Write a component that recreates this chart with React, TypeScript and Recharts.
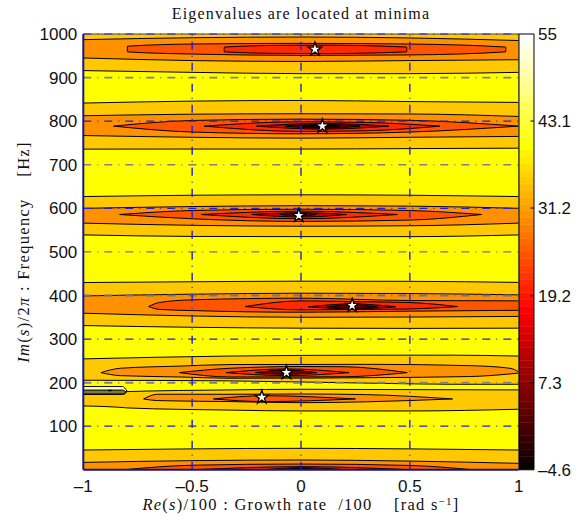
import { Area, CartesianGrid, ComposedChart, ReferenceLine, Scatter, Symbols, XAxis, YAxis } from "recharts";

type Row = [number, number, number]; // x, lower freq, upper freq

const xTicks = [-1, -0.5, 0, 0.5, 1];
const yTicks = [100, 200, 300, 400, 500, 600, 700, 800, 900, 1000];
const barTicks = [-4.6, 7.3, 19.2, 31.2, 43.1, 55];

// one colour per contour level, low index = high value
const AMBER = "#FFC800";
const ORANGE = "#FF9000";
const FLAME = "#FF5500";
const RED = "#FF2A00";
const CRIMSON = "#D00000";
const MAROON = "#700000";
const NEAR_BLACK = "#180000";

// band near 965 Hz
const b1Amber: Row[] = [[-1, 916, 1010], [-0.5, 912, 1010], [0, 909, 1010], [0.5, 909, 1010], [1, 912, 1010]];
const b1Orange: Row[] = [[-1, 945, 987], [-0.5, 939, 991.5], [0, 937, 993], [0.5, 939, 991], [1, 941, 985]];
const b1Flame: Row[] = [[-0.798, 965, 965], [-0.797, 959, 972], [-0.5, 954, 977], [0, 951, 978.5], [0.5, 952, 977], [0.94, 959, 970], [0.941, 965, 965]];
const b1Red: Row[] = [[-0.353, 965, 965], [-0.352, 959, 970], [-0.1, 955.5, 974], [0.1, 955, 974.5], [0.485, 959, 970], [0.486, 965, 965]];

// band near 790 Hz
const b2Amber: Row[] = [[-1, 735.8, 841.5], [-0.5, 736, 846], [0, 736, 847.5], [0.5, 737, 845], [1, 738, 843]];
const b2Orange: Row[] = [[-1, 767, 812.4], [-0.5, 763, 816], [0, 761, 817], [0.5, 763, 816.5], [1, 765, 810.8]];
const b2Flame: Row[] = [[-0.861, 788.6, 788.6], [-0.5, 775, 801.6], [0, 771, 804.7], [0.5, 775, 802], [1, 788.6, 788.6]];
const b2Red: Row[] = [[-0.445, 788.6, 788.6], [0, 776.4, 798.6], [0.3, 778, 797], [0.638, 788.6, 788.6]];
const b2Crimson: Row[] = [[-0.206, 788.6, 788.6], [0.1, 781.7, 794.8], [0.404, 788.6, 788.6]];
const b2Maroon: Row[] = [[-0.073, 788.6, 788.6], [0.1, 784, 792.5], [0.27, 788.6, 788.6]];
const b2Black: Row[] = [[0, 788.6, 788.6], [0.09, 786, 791], [0.18, 788.6, 788.6]];

// band near 585 Hz
const b3Amber: Row[] = [[-1, 539, 627], [-0.5, 535.5, 630], [0, 535, 631], [0.5, 535, 630], [1, 539, 627]];
const b3Orange: Row[] = [[-1, 566, 600], [-0.5, 561, 604], [0, 559, 606], [0.5, 560, 605], [1, 566, 600]];
const b3Flame: Row[] = [[-0.833, 585.8, 585.8], [-0.5, 576, 595], [0, 570, 598], [0.5, 573, 595], [0.829, 585.8, 585.8]];
const b3Red: Row[] = [[-0.459, 585.8, 585.8], [0, 576, 593.5], [0.443, 585.8, 585.8]];
const b3Crimson: Row[] = [[-0.226, 585.8, 585.8], [0, 580, 590], [0.209, 585.8, 585.8]];
const b3Maroon: Row[] = [[-0.096, 585.8, 585.8], [0, 582.5, 588], [0.07, 585.8, 585.8]];

// band near 375 Hz
const b4Amber: Row[] = [[-1, 331, 429.7], [-0.5, 327, 431.5], [0, 325, 432.8], [0.5, 324.5, 432.5], [1, 325, 430]];
const b4Orange: Row[] = [[-1, 359.3, 399], [-0.5, 353, 403], [0, 350, 405.2], [0.5, 350.5, 404.5], [1, 352, 401.4]];
const b4Flame: Row[] = [[-0.7, 374.6, 374.6], [-0.65, 368, 384], [-0.5, 365.4, 390], [0, 361.6, 393.8], [0.5, 364, 388.4], [1, 366, 387.6]];
const b4Red: Row[] = [[-0.257, 374.6, 374.6], [0, 367, 387.6], [0.3, 368, 385.5], [0.5, 369, 383.8], [0.719, 374.6, 374.6]];
const b4Crimson: Row[] = [[0.034, 374, 374], [0.235, 369.3, 380.7], [0.436, 374, 374]];
const b4Maroon: Row[] = [[0.12, 374, 374], [0.235, 372, 378], [0.35, 374, 374]];

// band near 223 Hz
const b5Amber: Row[] = [[-1, 205.5, 254.5], [-0.33, 204, 261], [0.34, 198.6, 263], [0.7, 196.3, 263], [1, 196.3, 261]];
const b5Orange: Row[] = [[-0.919, 223, 223], [-0.83, 216, 233], [-0.556, 213, 238], [-0.326, 210, 241.5], [0.34, 211.5, 242], [0.775, 214, 239], [0.96, 220, 233], [1, 222, 225]];
const b5Flame: Row[] = [[-0.558, 223, 223], [-0.326, 213, 233], [0, 213, 237], [0.2, 213.5, 236.5], [0.488, 223, 223]];
const b5Red: Row[] = [[-0.344, 223, 223], [-0.07, 216, 231.5], [0.22, 223, 223]];
const b5Maroon: Row[] = [[-0.21, 223, 223], [-0.07, 219, 229], [0.072, 223, 223]];

// band near 163 Hz, with the narrow pole feature on its left
const b6Amber: Row[] = [[-1, 146.5, 173], [-0.81, 142.5, 174], [-0.8, 142, 179.4], [-0.326, 137, 183.3], [0, 135, 184.8], [0.5, 135, 184], [1, 139, 183.3]];
const b6Orange: Row[] = [[-0.723, 162.6, 162.6], [-0.66, 158.8, 173.3], [-0.326, 156.5, 173.3], [0, 154, 174], [0.3, 156, 172.5], [0.696, 162.6, 162.6]];
const b6Flame: Row[] = [[-0.402, 162.6, 162.6], [-0.17, 156.5, 170], [0.25, 162.6, 162.6]];
const poleOuter: Row[] = [[-1, 173, 191], [-0.82, 173, 191], [-0.8, 181, 181]];
const poleShade: Row[] = [[-1, 174, 183], [-0.82, 174, 183], [-0.805, 179, 179]];
const poleCore: Row[] = [[-0.885, 181.4, 182.4], [-0.87, 181.4, 182.4]];

// band at the bottom edge
const b7Amber: Row[] = [[-1, -20, 45.4], [-0.5, -20, 48], [0, -20, 49.3], [0.5, -20, 48], [1, -20, 45.4]];
const b7Orange: Row[] = [[-1, -20, 17], [-0.5, -20, 21], [0, -20, 22.5], [0.5, -20, 20], [1, -20, 14.8]];
const b7Flame: Row[] = [[-0.816, 0, 0], [-0.5, -10, 10.5], [0, -13, 13.3], [0.5, -10, 10], [0.79, 0, 0]];
const b7Red: Row[] = [[-0.495, 0, 0], [0, -7, 7.2], [0.514, 0, 0]];
const b7Crimson: Row[] = [[-0.174, 0, 0], [0, -5, 4.9], [0.21, 0, 0]];
const b7Black: Row[] = [[-0.09, 0, 0], [0, -3, 3.3], [0.09, 0, 0]];

const contours: [Row[], string][] = [
  [b1Amber, AMBER], [b1Orange, ORANGE], [b1Flame, FLAME], [b1Red, RED],
  [b2Amber, AMBER], [b2Orange, ORANGE], [b2Flame, FLAME], [b2Red, RED], [b2Crimson, CRIMSON], [b2Maroon, MAROON], [b2Black, NEAR_BLACK],
  [b3Amber, AMBER], [b3Orange, ORANGE], [b3Flame, FLAME], [b3Red, RED], [b3Crimson, CRIMSON], [b3Maroon, MAROON],
  [b4Amber, AMBER], [b4Orange, ORANGE], [b4Flame, FLAME], [b4Red, RED], [b4Crimson, CRIMSON], [b4Maroon, MAROON],
  [b5Amber, AMBER], [b5Orange, ORANGE], [b5Flame, FLAME], [b5Red, RED], [b5Maroon, MAROON],
  [b6Amber, AMBER], [b6Orange, ORANGE], [b6Flame, FLAME],
  [poleOuter, "#FFFFC8"], [poleShade, "#7C7C38"], [poleCore, "#000000"],
  [b7Amber, AMBER], [b7Orange, ORANGE], [b7Flame, FLAME], [b7Red, RED], [b7Crimson, CRIMSON], [b7Black, NEAR_BLACK],
];

// eigenvalue positions
const eigenRe = [0.064, 0.098, -0.01, 0.235, -0.067, -0.18];
const eigenIm = [965, 788.6, 583.5, 377, 223, 166.4];

// grid
const blueGridY = [100, 300, 600, 800];
const greyGridY: [number, string, number][] = [
  [200, "#7F7F90", 2],
  [400, "#6E6E9C", 2],
  [500, "#70709C", 1.3],
  [700, "#808088", 1.6],
  [900, "#808088", 1.6],
];
const gridX = [-0.5, 0, 0.5];

// hot colormap, top of the list is the bottom of the colour bar
const hotMap = [
  "#0B0000", "#150000", "#200000", "#2A0000", "#350000", "#400000", "#4A0000", "#550000",
  "#600000", "#6A0000", "#750000", "#800000", "#8A0000", "#950000", "#9F0000", "#AA0000",
  "#B50000", "#BF0000", "#CA0000", "#D50000", "#DF0000", "#EA0000", "#F40000", "#FF0000",
  "#FF0B00", "#FF1500", "#FF2000", "#FF2A00", "#FF3500", "#FF4000", "#FF4A00", "#FF5500",
  "#FF6000", "#FF6A00", "#FF7500", "#FF8000", "#FF8A00", "#FF9500", "#FF9F00", "#FFAA00",
  "#FFB500", "#FFBF00", "#FFCA00", "#FFD500", "#FFDF00", "#FFEA00", "#FFF400", "#FFFF00",
  "#FFFF10", "#FFFF20", "#FFFF30", "#FFFF40", "#FFFF50", "#FFFF60", "#FFFF70", "#FFFF80",
  "#FFFF8F", "#FFFF9F", "#FFFFAF", "#FFFFBF", "#FFFFCF", "#FFFFDF", "#FFFFEF", "#FFFFFF",
];
const barMin = -4.6;
const barMax = 55;

const SANS = "'Liberation Sans', Arial, sans-serif";
const SERIF = "'Liberation Serif', serif";
const DASH = "8 6 1 6";

const toPoints = (rows: Row[]) => rows.map(([x, lo, hi]) => ({ x, band: [lo, hi] }));
const eigenPoints = eigenRe.map((re, i) => ({ x: re, y: eigenIm[i] }));
const barStep = (barMax - barMin) / hotMap.length;

const fmt = (v: number) => String(v).replace("-", "\u2013");

function Star(props: any) {
  return <Symbols cx={props.cx} cy={props.cy} type="star" size={58} fill="#ffffff" stroke="#000000" strokeWidth={1.3} />;
}

export default function App() {
  const tick = { fontFamily: SANS, fontSize: 17, fill: "#111" };

  return (
    <div style={{ position: "absolute", left: 0, top: 0, width: 584, height: 522, background: "#fff" }}>
      <div style={{ position: "absolute", left: 0, top: 0 }}>
        <ComposedChart width={584} height={522} margin={{ top: 34, right: 65.3, bottom: 0, left: 0 }}>
          <CartesianGrid fill="#FFFF00" fillOpacity={1} stroke="none" />
          <XAxis
            dataKey="x"
            type="number"
            domain={[-1, 1]}
            ticks={xTicks}
            allowDataOverflow
            height={52.2}
            interval={0}
            tick={tick}
            tickFormatter={fmt}
            tickLine={false}
            tickSize={0}
            tickMargin={10}
            axisLine={{ stroke: "#14148C", strokeWidth: 2 }}
            label={() => (
              <text x={301} y={510} textAnchor="middle" fontFamily={SERIF} fontSize={16.5} letterSpacing={1.25} fill="#111" xmlSpace="preserve">
                <tspan fontStyle="italic">Re</tspan>(<tspan fontStyle="italic">s</tspan>)/100 : Growth rate  /100    [rad s
                <tspan fontSize={11} dy={-5}>{"\u22121"}</tspan>
                <tspan dy={5}>]</tspan>
              </text>
            )}
          />
          <YAxis
            type="number"
            domain={[0, 1000]}
            ticks={yTicks}
            allowDataOverflow
            width={83.3}
            interval={0}
            tick={tick}
            tickLine={false}
            tickSize={0}
            tickMargin={6}
            axisLine={{ stroke: "#14148C", strokeWidth: 2 }}
            label={() => (
              <text x={29} y={252} transform="rotate(-90 29 252)" textAnchor="middle" fontFamily={SERIF} fontSize={16.5} letterSpacing={1.3} fill="#111" xmlSpace="preserve">
                <tspan fontStyle="italic">Im</tspan>(<tspan fontStyle="italic">s</tspan>)/2<tspan fontStyle="italic">{"\u03C0"}</tspan> : Frequency    [Hz]
              </text>
            )}
          />

          {contours.map(([rows, colour], i) => (
            <Area
              key={i}
              data={toPoints(rows)}
              dataKey="band"
              type="monotone"
              fill={colour}
              fillOpacity={1}
              stroke="#000000"
              strokeWidth={1}
              dot={false}
              activeDot={false}
              isAnimationActive={false}
            />
          ))}

          {blueGridY.map((y) => (
            <ReferenceLine key={y} y={y} stroke="#2020E0" strokeWidth={1.2} strokeDasharray={DASH} />
          ))}
          {greyGridY.map(([y, colour, w]) => (
            <ReferenceLine key={y} y={y} stroke={colour} strokeWidth={w} strokeDasharray={DASH} />
          ))}
          {gridX.map((x) => (
            <ReferenceLine key={x} x={x} stroke="#2020E0" strokeWidth={1.4} strokeDasharray={DASH} />
          ))}
          <ReferenceLine y={1000} stroke="#444" strokeWidth={1} />
          <ReferenceLine y={1000} stroke="#2020E0" strokeWidth={1} strokeDasharray={DASH} />
          <ReferenceLine x={1} stroke="#333" strokeWidth={1} />

          <Scatter data={eigenPoints} dataKey="y" shape={Star} isAnimationActive={false} />

          <text x={301} y={19} textAnchor="middle" fontFamily={SERIF} fontSize={16} letterSpacing={1.15} fill="#111">
            Eigenvalues are located at minima
          </text>
        </ComposedChart>
      </div>

      {/* colour bar */}
      <div style={{ position: "absolute", left: 518.7, top: 0 }}>
        <ComposedChart width={65.3} height={522} margin={{ top: 34, right: 0, bottom: 52.2, left: 0 }}>
          <XAxis dataKey="x" type="number" domain={[0, 1]} hide />
          <YAxis
            type="number"
            orientation="right"
            domain={[barMin, barMax]}
            ticks={barTicks}
            allowDataOverflow
            width={50.3}
            interval={0}
            tick={{ ...tick, textAnchor: "start" }}
            tickFormatter={fmt}
            tickLine={false}
            tickSize={0}
            tickMargin={4}
            axisLine={{ stroke: "#000", strokeWidth: 1 }}
          />
          {hotMap.map((colour, i) => (
            <Area
              key={colour}
              data={[
                { x: 0, band: [barMin + i * barStep, barMin + (i + 1) * barStep] },
                { x: 1, band: [barMin + i * barStep, barMin + (i + 1) * barStep] },
              ]}
              dataKey="band"
              type="linear"
              fill={colour}
              fillOpacity={1}
              stroke={colour}
              strokeWidth={0.5}
              dot={false}
              activeDot={false}
              isAnimationActive={false}
            />
          ))}
          {barTicks.slice(1, 5).map((v) => (
            <ReferenceLine key={v} segment={[{ x: 0.76, y: v }, { x: 1, y: v }]} stroke="#000" strokeWidth={1} />
          ))}
          <ReferenceLine y={barMax} stroke="#000" strokeWidth={1} />
          <ReferenceLine y={barMin} stroke="#000" strokeWidth={1} />
          <ReferenceLine x={0} stroke="#000" strokeWidth={1} />
        </ComposedChart>
      </div>
    </div>
  );
}
